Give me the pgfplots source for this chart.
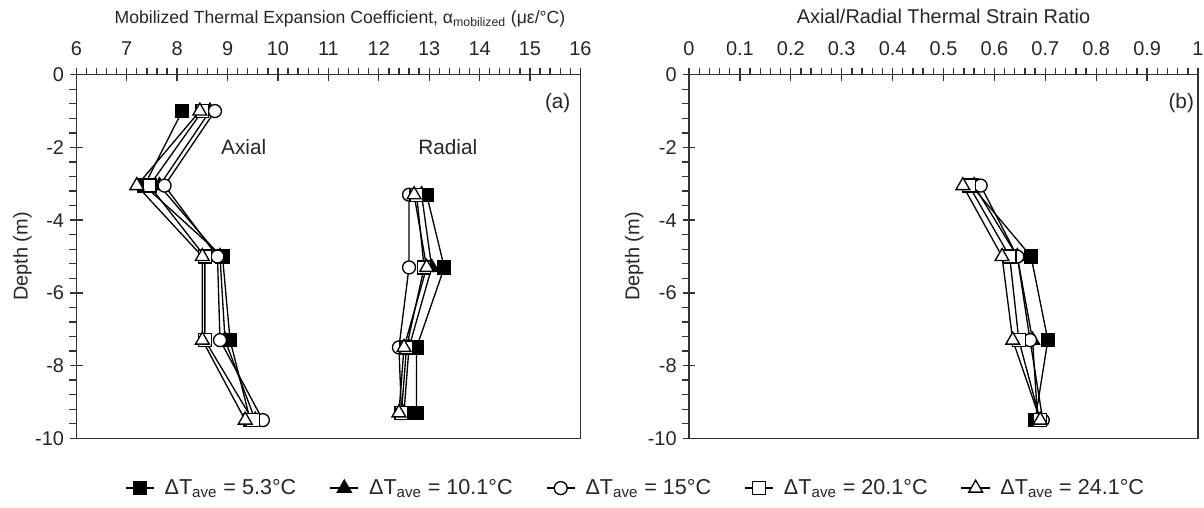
\documentclass[border=0pt]{standalone}
\usepackage{pgfplots}
\pgfplotsset{compat=1.18}
\usepackage{fontspec}
\setmainfont{Liberation Sans}
\begin{document}
\pgfplotsset{
  panel/.style={
    scale only axis, height=219pt,
    ymin=-10, ymax=0, ytick={-10,-8,-6,-4,-2,0},
    minor y tick num=4,
    xtick pos=upper, xticklabel pos=upper, ytick pos=left,
    tick align=center,
    major tick length=7.8pt, minor tick length=4.2pt,
    every minor x tick/.append style={yshift=2.1pt},
    every minor y tick/.append style={xshift=-2.1pt},
    axis line style={black!80, line width=0.9pt},
    tick style={black!80, line width=0.8pt},
    ticklabel style={font=\fontsize{12}{14}\selectfont, text=black!85},
    xticklabel style={yshift=4pt},
    /pgf/number format/assume math mode=true,
    clip=false,
  },
  s1/.style={black, line width=0.8pt, mark=square*, mark size=3.9pt, mark options={solid, fill=black}},
  s2/.style={black, line width=0.8pt, mark=triangle*, mark size=4.8pt, mark options={solid, fill=black}},
  s3/.style={black, line width=0.8pt, mark=*, mark size=3.9pt, mark options={solid, fill=white}},
  s4/.style={black, line width=0.8pt, mark=square*, mark size=3.9pt, mark options={solid, fill=white}},
  s5/.style={black, line width=0.8pt, mark=triangle*, mark size=4.8pt, mark options={solid, fill=white}},
}
\begin{tikzpicture}
\path[use as bounding box] (0pt,0pt) rectangle (722.4pt,305.4pt);
% ---------------- panel (a)
\begin{axis}[panel,
  at={(43.2pt,41.4pt)}, anchor=south west,
  width=303.6pt,
  xmin=6, xmax=16, xtick={6,7,...,16}, minor x tick num=4,
  legend columns=5,
  legend style={draw=none, fill=none, at={(1.1107,-0.137)}, anchor=center,
    font=\fontsize{13}{15}\selectfont, text=black!85,
    /tikz/every even column/.append style={column sep=18pt},
    /tikz/every odd column/.append style={column sep=4pt}},
]
% axial
\addplot[s1] coordinates {(8.1,-1) (7.35,-3.05) (8.9,-5) (9.05,-7.3) (9.45,-9.5)};
\addlegendentry{ΔT\textsubscript{ave} = 5.3°C\hspace{10pt}}
\addplot[s2] coordinates {(8.65,-1) (7.65,-3.05) (8.85,-5) (8.95,-7.3) (9.55,-9.5)};
\addlegendentry{ΔT\textsubscript{ave} = 10.1°C}
\addplot[s3] coordinates {(8.75,-1) (7.75,-3.05) (8.8,-5) (8.85,-7.3) (9.7,-9.5)};
\addlegendentry{ΔT\textsubscript{ave} = 15°C}
\addplot[s4] coordinates {(8.5,-1) (7.45,-3.05) (8.55,-5) (8.55,-7.3) (9.5,-9.5)};
\addlegendentry{ΔT\textsubscript{ave} = 20.1°C}
\addplot[s5] coordinates {(8.45,-1) (7.2,-3.05) (8.5,-5) (8.5,-7.3) (9.35,-9.5)};
\addlegendentry{ΔT\textsubscript{ave} = 24.1°C}
% radial
\addplot[s1, forget plot] coordinates {(12.95,-3.3) (13.3,-5.3) (12.75,-7.5) (12.75,-9.3)};
\addplot[s2, forget plot] coordinates {(12.85,-3.3) (13.05,-5.3) (12.6,-7.5) (12.5,-9.3)};
\addplot[s3, forget plot] coordinates {(12.6,-3.3) (12.6,-5.3) (12.4,-7.5) (12.45,-9.3)};
\addplot[s4, forget plot] coordinates {(12.75,-3.3) (12.9,-5.3) (12.55,-7.5) (12.45,-9.3)};
\addplot[s5, forget plot] coordinates {(12.7,-3.3) (12.95,-5.3) (12.5,-7.5) (12.4,-9.3)};
\node[font=\fontsize{12.5}{14}\selectfont, text=black!85] at (axis cs:15.55,-0.77) {(a)};
\node[font=\fontsize{12.5}{14}\selectfont, text=black!85] at (axis cs:9.32,-2.0) {Axial};
\node[font=\fontsize{12.5}{14}\selectfont, text=black!85] at (axis cs:13.37,-2.0) {Radial};
\node[anchor=base, font=\fontsize{10.6}{13}\selectfont, text=black!85] at ([xshift=7pt,yshift=30.6pt]rel axis cs:0.5,1) {Mobilized Thermal Expansion Coefficient, α\textsubscript{mobilized} (με/°C)};
\node[rotate=90, font=\fontsize{12}{14}\selectfont, text=black!85] at ([xshift=-32.4pt]rel axis cs:0,0.5) {Depth (m)};
\end{axis}
% ---------------- panel (b)
\begin{axis}[panel,
  at={(412.2pt,41.4pt)}, anchor=south west,
  width=306.6pt,
  xmin=0, xmax=1, xtick={0,0.1,...,1.01}, minor x tick num=4,
  xticklabels={0,0.1,0.2,0.3,0.4,0.5,0.6,0.7,0.8,0.9,1},
]
\addplot[s1] coordinates {(0.555,-3.05) (0.672,-5) (0.705,-7.3) (0.68,-9.5)};
\addplot[s2] coordinates {(0.56,-3.05) (0.645,-5) (0.675,-7.3) (0.685,-9.5)};
\addplot[s3] coordinates {(0.573,-3.05) (0.645,-5) (0.67,-7.3) (0.695,-9.5)};
\addplot[s4] coordinates {(0.55,-3.05) (0.63,-5) (0.648,-7.3) (0.69,-9.5)};
\addplot[s5] coordinates {(0.538,-3.05) (0.615,-5) (0.636,-7.3) (0.69,-9.5)};
\node[font=\fontsize{12.5}{14}\selectfont, text=black!85] at (axis cs:0.967,-0.77) {(b)};
\node[anchor=base, font=\fontsize{12}{14}\selectfont, text=black!85] at ([yshift=30.6pt]rel axis cs:0.5,1) {Axial/Radial Thermal Strain Ratio};
\node[rotate=90, font=\fontsize{12}{14}\selectfont, text=black!85] at ([xshift=-33pt]rel axis cs:0,0.5) {Depth (m)};
\end{axis}
\end{tikzpicture}
\end{document}
